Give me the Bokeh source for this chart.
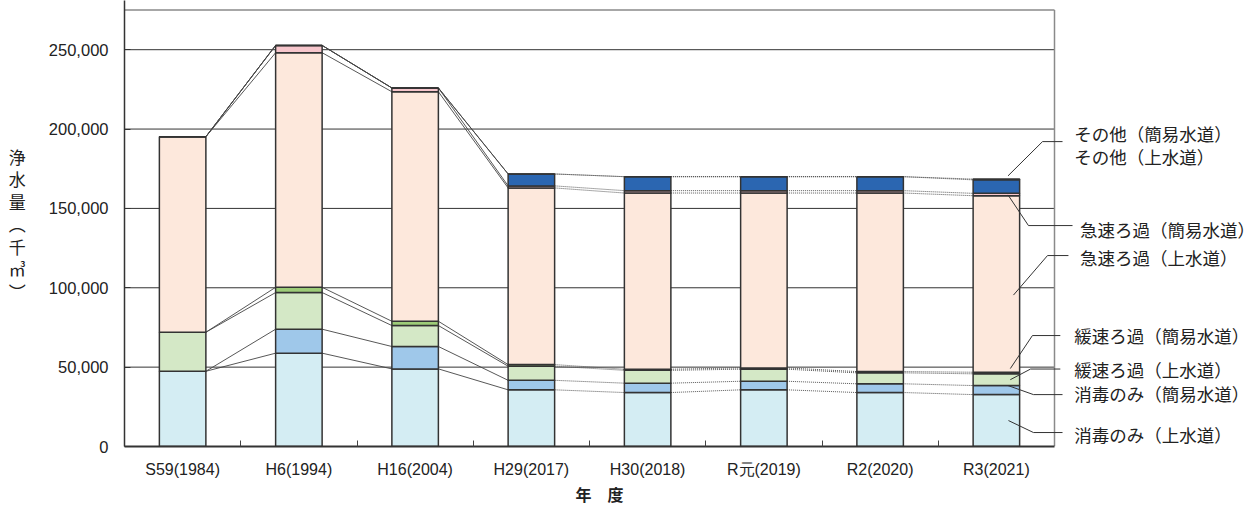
import numpy as np
from bokeh.plotting import figure
from bokeh.models import ColumnDataSource, Range1d, FixedTicker, NumeralTickFormatter, Title
from bokeh.core.properties import value
from bokeh.embed import file_html
from bokeh.resources import INLINE

# ---------------- data ----------------
years = ["S59(1984)", "H6(1994)", "H16(2004)", "H29(2017)", "H30(2018)",
         "R元(2019)", "R2(2020)", "R3(2021)"]

# 浄水量（千㎥） by treatment type, bottom to top of each stack
disinfect_josui = [47400, 58800, 48900, 35700, 34000, 35700, 34000, 32700]   # 消毒のみ（上水道）
disinfect_kani  = [0, 15100, 14100, 6000, 5900, 5400, 5500, 5700]             # 消毒のみ（簡易水道）
slow_josui      = [24600, 23100, 13200, 8900, 8100, 7600, 6900, 7400]         # 緩速ろ過（上水道）
slow_kani       = [0, 3300, 2700, 1000, 700, 800, 800, 1000]                  # 緩速ろ過（簡易水道）
rapid_josui     = [123200, 147800, 144600, 111300, 111000, 110200, 112500, 111200]  # 急速ろ過（上水道）
rapid_kani      = [0, 4600, 2400, 1300, 1500, 1500, 1500, 1500]               # 急速ろ過（簡易水道）
other_josui     = [0, 0, 0, 7500, 8800, 8800, 8800, 8500]                     # その他（上水道）
other_kani      = [0, 0, 0, 0, 0, 0, 0, 500]                                  # その他（簡易水道）

series_labels = ["消毒のみ（上水道）", "消毒のみ（簡易水道）", "緩速ろ過（上水道）", "緩速ろ過（簡易水道）",
                 "急速ろ過（上水道）", "急速ろ過（簡易水道）", "その他（上水道）", "その他（簡易水道）"]
y_ticks = [0, 50000, 100000, 150000, 200000, 250000]

# ---------------- styling ----------------
colors = ["#d4edf3", "#9fc8ea", "#d4e8c6", "#9dcc78",
          "#fde8dc", "#f7c6cc", "#2b66b1", "#203864"]
keys = ["s0", "s1", "s2", "s3", "s4", "s5", "s6", "s7"]
series = [disinfect_josui, disinfect_kani, slow_josui, slow_kani,
          rapid_josui, rapid_kani, other_josui, other_kani]

JP = "Noto Sans CJK JP"
LAT = "Liberation Sans"
BAR_W = 0.4
N = len(years)
W, H = 1260, 513
LEFT, BOTTOM = 124, 67
X_END = (W - LEFT) / 116.25
Y_END = 281000
FRAME_TOP = 275000

xs = [i + 0.5 for i in range(N)]
data = {"x": xs}
for k, s in zip(keys, series):
    data[k] = s
src = ColumnDataSource(data)

p = figure(width=W, height=H, x_range=Range1d(0, X_END), y_range=Range1d(0, Y_END),
           output_backend="svg", toolbar_location=None, title=None,
           min_border_left=LEFT, min_border_right=0, min_border_top=0, min_border_bottom=BOTTOM)
p.outline_line_color = None
p.xgrid.visible = False
p.ygrid.visible = False
p.background_fill_color = "white"
p.border_fill_color = "white"

# grid lines (only across the chart area)
grid_src = ColumnDataSource(dict(y=y_ticks[1:], x0=[0] * (len(y_ticks) - 1), x1=[N] * (len(y_ticks) - 1)))
p.segment(x0="x0", y0="y", x1="x1", y1="y", source=grid_src, line_color="#333333", line_width=1)
# top / right frame lines
p.segment(x0=[0, N], y0=[FRAME_TOP, 0], x1=[N, N], y1=[FRAME_TOP, FRAME_TOP],
          line_color="#8a8a8a", line_width=1.5)

# series connector lines
cum = np.cumsum(np.array(series, dtype=float), axis=0)
cx0, cy0, cx1, cy1, dashed = [], [], [], [], []
for k in range(cum.shape[0]):
    for i in range(N - 1):
        cx0.append(xs[i] + BAR_W / 2)
        cx1.append(xs[i + 1] - BAR_W / 2)
        cy0.append(cum[k, i])
        cy1.append(cum[k, i + 1])
        dashed.append(i >= 3)
solid_idx = [j for j, d in enumerate(dashed) if not d]
dash_idx = [j for j, d in enumerate(dashed) if d]
p.segment(x0=[cx0[j] for j in solid_idx], y0=[cy0[j] for j in solid_idx],
          x1=[cx1[j] for j in solid_idx], y1=[cy1[j] for j in solid_idx],
          line_color="#444444", line_width=0.9)
p.segment(x0=[cx0[j] for j in dash_idx], y0=[cy0[j] for j in dash_idx],
          x1=[cx1[j] for j in dash_idx], y1=[cy1[j] for j in dash_idx],
          line_color="#444444", line_width=0.9, line_dash="1 1")

# stacked bars
p.vbar_stack(keys, x="x", width=BAR_W, source=src, fill_color=colors,
             line_color="#333333", line_width=1.5)

# ---------------- axes ----------------
p.xaxis.ticker = FixedTicker(ticks=xs, minor_ticks=list(range(1, N)))
p.xaxis.major_label_overrides = {x: y for x, y in zip(xs, years)}
p.xaxis.bounds = (0, N)
p.xaxis.axis_line_color = "#333333"
p.xaxis.axis_line_width = 2
p.xaxis.major_tick_line_color = None
p.xaxis.major_tick_in = 0
p.xaxis.major_tick_out = 0
p.xaxis.minor_tick_in = 6
p.xaxis.minor_tick_out = 0
p.xaxis.minor_tick_line_color = "#444444"
p.xaxis.major_label_text_font = LAT
p.xaxis.major_label_text_font_size = "16px"
p.xaxis.major_label_text_color = "#222222"
p.xaxis.major_label_standoff = 14

p.yaxis.ticker = FixedTicker(ticks=y_ticks)
p.yaxis.formatter = NumeralTickFormatter(format="0,0")
p.yaxis.axis_line_color = "#333333"
p.yaxis.axis_line_width = 1.5
p.yaxis.major_tick_in = 6
p.yaxis.major_tick_out = 0
p.yaxis.major_tick_line_color = "#333333"
p.yaxis.minor_tick_line_color = None
p.yaxis.major_label_text_font = LAT
p.yaxis.major_label_text_font_size = "16.5px"
p.yaxis.major_label_text_color = "#222222"
p.yaxis.major_label_standoff = 16
p.yaxis.axis_label = "浄\n水\n量\n︵\n千\n㎥\n︶"
p.yaxis.axis_label_orientation = "horizontal"
p.yaxis.axis_label_text_font = JP
p.yaxis.axis_label_text_font_size = "17px"
p.yaxis.axis_label_text_font_style = "normal"
p.yaxis.axis_label_text_color = "#222222"
p.yaxis.axis_label_text_line_height = 0.9
p.yaxis.axis_label_standoff = 20

p.add_layout(Title(text="年　度", align="left", offset=451, standoff=13, vertical_align="top",
                   text_font="Liberation Sans, Noto Sans CJK JP",
                   text_font_size="16px", text_font_style="bold", text_color="#222222"), "below")

# ---------------- right-hand labels with leader lines ----------------
last = N - 1
top = cum[:, last]
base = np.concatenate([[0.0], top[:-1]])
anchors_y = [
    (base[0] + top[0]) / 2,          # 消毒のみ（上水道）
    top[1],                          # 消毒のみ（簡易水道）
    (base[2] + top[2]) / 2,          # 緩速ろ過（上水道）
    top[3] + 2300,                   # 緩速ろ過（簡易水道）
    (base[4] + top[4]) / 2 - 7000,   # 急速ろ過（上水道）
    top[5] - 1000,                   # 急速ろ過（簡易水道）
    top[7] + 2000,                   # その他
]
anchor_x = [7.604, 7.6, 7.62, 7.62, 7.647, 7.6, 7.6]
elbow_x = [7.819, 7.819, 7.794, 7.81, 7.94, 7.776, 7.897]
elbow_y = [8800, 32700, 48800, 69900, 120300, 139200, 192100]
end_x = [8.069, 8.069, 8.05, 8.05, 8.12, 8.155, 8.069]
lx, ly = [], []
for a_x, a_y, e_x, e_y, t_x in zip(anchor_x, anchors_y, elbow_x, elbow_y, end_x):
    lx.append([a_x, e_x, t_x])
    ly.append([a_y, e_y, e_y])
p.multi_line(xs=lx, ys=ly, line_color="#333333", line_width=1)

label_src = ColumnDataSource(dict(
    x=[8.17, 8.17, 8.22, 8.22, 8.17, 8.17, 8.17, 8.17],
    y=[197100, 182600, 136600, 119000, 69900, 48500, 33400, 7600],
    text=[series_labels[7], series_labels[6], series_labels[5], series_labels[4],
          series_labels[3], series_labels[2], series_labels[1], series_labels[0]],
))
p.text(x="x", y="y", text="text", source=label_src, text_font=value(JP), text_font_size="17.5px",
       text_baseline="middle", text_align="left", text_color="#222222")

open("out.html", "w").write(file_html(p, INLINE))
